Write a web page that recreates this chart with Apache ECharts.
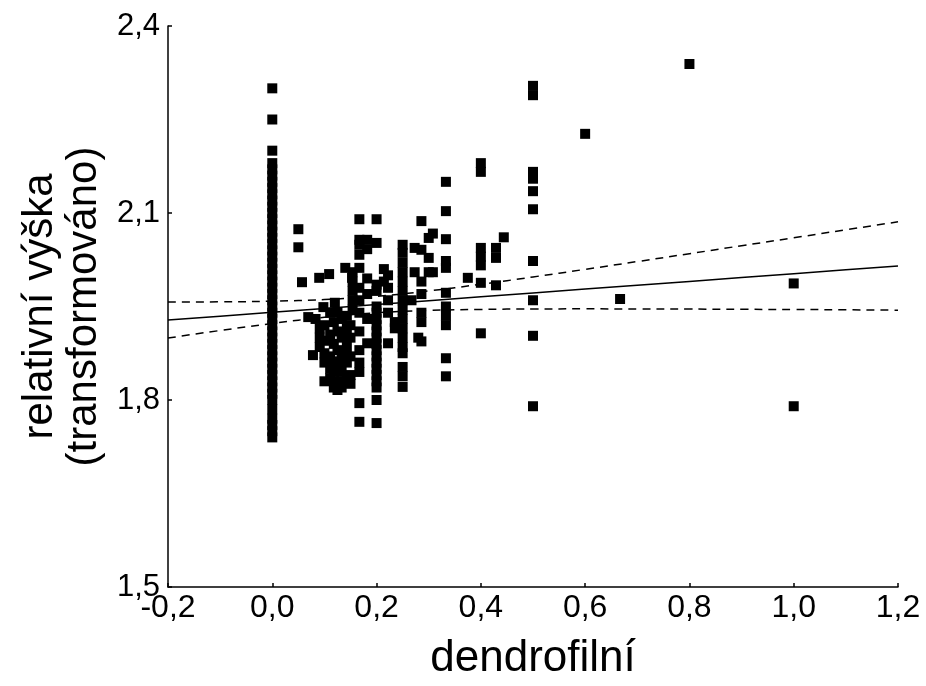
<!DOCTYPE html>
<html>
<head>
<meta charset="utf-8">
<script src="https://cdn.jsdelivr.net/npm/echarts@6/dist/echarts.min.js"></script>
<style>html,body{margin:0;padding:0;background:#fff}#c{width:926px;height:686px}</style>
</head>
<body>
<div id="c"></div>
<script>
// x-axis and y-axis ticks
const xTicks = [-0.2, 0.0, 0.2, 0.4, 0.6, 0.8, 1.0, 1.2];
const yTicks = [1.5, 1.8, 2.1, 2.4];

// observations at dendrofilní = 0
const col0 = [2.30, 2.25, 2.20, 2.18, 2.17, 2.16, 2.15, 2.14, 2.13, 2.12, 2.11, 2.10, 2.09, 2.08, 2.07, 2.06,
  2.05, 2.04, 2.03, 2.02, 2.01, 2.00, 1.99, 1.98, 1.97, 1.96, 1.95, 1.94, 1.93, 1.92, 1.91, 1.90, 1.89,
  1.88, 1.87, 1.86, 1.85, 1.84, 1.83, 1.82, 1.81, 1.80, 1.785, 1.77, 1.76, 1.75, 1.74];

// other observations [x, y]
const pts = [
  [0.05, 2.074], [0.05, 2.045], [0.057, 1.989], [0.069, 1.933], [0.078, 1.872],
  [0.09, 1.996], [0.098, 1.949], [0.109, 2.002], [0.12, 1.956], [0.14, 2.012], [0.153, 1.996],
  [0.083, 1.93], [0.091, 1.915], [0.091, 1.90], [0.091, 1.885],
  [0.10, 1.92], [0.10, 1.895], [0.10, 1.875], [0.10, 1.86], [0.10, 1.83],
  [0.111, 1.94], [0.111, 1.905], [0.111, 1.87], [0.111, 1.85], [0.111, 1.835],
  [0.118, 1.925], [0.118, 1.89], [0.118, 1.862], [0.118, 1.845], [0.118, 1.82],
  [0.125, 1.941], [0.125, 1.91], [0.125, 1.88], [0.125, 1.855], [0.125, 1.83], [0.125, 1.816],
  [0.133, 1.93], [0.133, 1.90], [0.133, 1.87], [0.133, 1.845], [0.133, 1.82],
  [0.143, 1.935], [0.143, 1.915], [0.143, 1.885], [0.143, 1.86], [0.143, 1.835],
  [0.15, 1.92], [0.15, 1.90], [0.15, 1.87], [0.15, 1.84], [0.15, 1.826],
  [0.154, 2.005], [0.154, 1.99], [0.154, 1.975], [0.154, 1.96], [0.154, 1.945],
  [0.167, 2.09], [0.167, 2.057], [0.167, 2.049], [0.167, 2.033], [0.167, 2.012], [0.167, 1.98],
  [0.167, 1.96], [0.167, 1.94], [0.167, 1.91], [0.167, 1.88], [0.167, 1.86], [0.167, 1.845],
  [0.167, 1.795], [0.167, 1.765],
  [0.182, 2.057], [0.182, 2.042], [0.182, 1.995], [0.182, 1.97], [0.182, 1.891], [0.182, 1.93],
  [0.2, 2.09], [0.2, 2.052], [0.2, 1.985], [0.2, 1.975], [0.2, 1.95], [0.2, 1.94], [0.2, 1.93],
  [0.2, 1.92], [0.2, 1.91], [0.2, 1.90], [0.2, 1.89], [0.2, 1.88], [0.2, 1.87], [0.2, 1.86],
  [0.2, 1.85], [0.2, 1.84], [0.2, 1.83], [0.2, 1.82], [0.2, 1.80], [0.2, 1.763],
  [0.214, 2.01], [0.214, 1.99], [0.222, 2.0], [0.222, 1.98], [0.222, 1.96], [0.222, 1.94],
  [0.222, 1.891], [0.235, 1.925], [0.235, 1.915],
  [0.25, 2.049], [0.25, 2.036], [0.25, 2.02], [0.25, 2.005], [0.25, 1.99], [0.25, 1.975],
  [0.25, 1.96], [0.25, 1.945], [0.25, 1.93], [0.25, 1.915], [0.25, 1.90], [0.25, 1.885],
  [0.25, 1.875], [0.25, 1.853], [0.25, 1.838], [0.25, 1.821],
  [0.267, 1.96], [0.273, 2.044], [0.273, 2.005], [0.28, 1.90],
  [0.286, 2.087], [0.286, 2.041], [0.286, 1.99], [0.286, 1.97], [0.286, 1.94], [0.286, 1.925],
  [0.286, 1.894], [0.3, 2.06], [0.3, 2.028], [0.3, 2.005], [0.308, 2.067], [0.308, 2.005],
  [0.333, 2.150], [0.333, 2.103], [0.333, 2.058], [0.333, 2.023], [0.333, 2.012], [0.333, 1.972],
  [0.333, 1.95], [0.333, 1.935], [0.333, 1.92], [0.333, 1.867], [0.333, 1.838],
  [0.375, 1.996],
  [0.4, 2.180], [0.4, 2.166], [0.4, 2.044], [0.4, 2.030], [0.4, 2.016], [0.4, 1.988], [0.4, 1.907],
  [0.429, 2.044], [0.429, 2.028], [0.429, 1.984], [0.444, 2.061],
  [0.5, 2.304], [0.5, 2.289], [0.5, 2.166], [0.5, 2.155], [0.5, 2.135], [0.5, 2.106],
  [0.5, 2.023], [0.5, 1.960], [0.5, 1.903], [0.5, 1.790],
  [0.6, 2.227], [0.667, 1.962], [0.8, 2.339], [1.0, 1.987], [1.0, 1.790]
];

// regression fit and 95% confidence band
const bandX = [-0.2, -0.1, 0.0, 0.1, 0.2, 0.3, 0.4, 0.5, 0.6, 0.7, 0.8, 0.9, 1.0, 1.1, 1.2];
const fitY = [1.9283, 1.9345, 1.9407, 1.9469, 1.9531, 1.9593, 1.9655, 1.9717, 1.9779, 1.9841, 1.9903, 1.9965, 2.0027, 2.0089, 2.0150];
const upperY = [1.9572, 1.9575, 1.9586, 1.9612, 1.9664, 1.9750, 1.9857, 1.9974, 2.0096, 2.0221, 2.0347, 2.0475, 2.0602, 2.0731, 2.0859];
const lowerY = [1.8994, 1.9115, 1.9228, 1.9326, 1.9398, 1.9436, 1.9453, 1.9460, 1.9462, 1.9461, 1.9459, 1.9455, 1.9452, 1.9447, 1.9441];

const scatterData = col0.map(v => [0, v]).concat(pts);
const zip = ys => bandX.map((x, i) => [x, ys[i]]);
const fmt = v => v.toFixed(1).replace('.', ',');
const FONT = '"Liberation Sans", Arial, sans-serif';

const chart = echarts.init(document.getElementById('c'), null, {renderer: 'canvas'});
chart.setOption({
  animation: false,
  backgroundColor: '#fff',
  grid: {left: 168, right: 28, top: 26, bottom: 99, containLabel: false, outerBoundsMode: 'none'},
  xAxis: {
    type: 'value', min: xTicks[0], max: xTicks[xTicks.length - 1], interval: 0.2,
    name: 'dendrofilní', nameLocation: 'middle', nameGap: 50,
    nameTextStyle: {fontFamily: FONT, fontSize: 44, color: '#000'},
    axisLine: {onZero: false, lineStyle: {color: '#000', width: 1.5}},
    axisTick: {inside: true, length: 4, lineStyle: {color: '#000', width: 1.5}},
    axisLabel: {formatter: fmt, fontFamily: FONT, fontSize: 32, color: '#000', margin: 5},
    splitLine: {show: false}
  },
  yAxis: {
    type: 'value', min: yTicks[0], max: yTicks[yTicks.length - 1], interval: 0.3,
    name: 'relativní výška\n(transformováno)', nameLocation: 'middle', nameGap: 50, nameRotate: 90,
    nameTextStyle: {fontFamily: FONT, fontSize: 42, color: '#000', lineHeight: 44},
    axisLine: {onZero: false, lineStyle: {color: '#000', width: 1.5}},
    axisTick: {inside: true, length: 4, lineStyle: {color: '#000', width: 1.5}},
    axisLabel: {formatter: fmt, fontFamily: FONT, fontSize: 31, color: '#000', margin: 8},
    splitLine: {show: false}
  },
  series: [
    {type: 'scatter', data: scatterData, symbol: 'rect', symbolSize: 10,
      itemStyle: {color: '#000', opacity: 1}, z: 2},
    {type: 'line', data: zip(fitY), showSymbol: false, symbol: 'none', smooth: false,
      lineStyle: {color: '#000', width: 1.5}, z: 3},
    {type: 'line', data: zip(upperY), showSymbol: false, symbol: 'none', smooth: true,
      lineStyle: {color: '#000', width: 1.5, type: [8, 6]}, z: 3},
    {type: 'line', data: zip(lowerY), showSymbol: false, symbol: 'none', smooth: true,
      lineStyle: {color: '#000', width: 1.5, type: [8, 6]}, z: 3}
  ]
});
</script>
</body>
</html>
